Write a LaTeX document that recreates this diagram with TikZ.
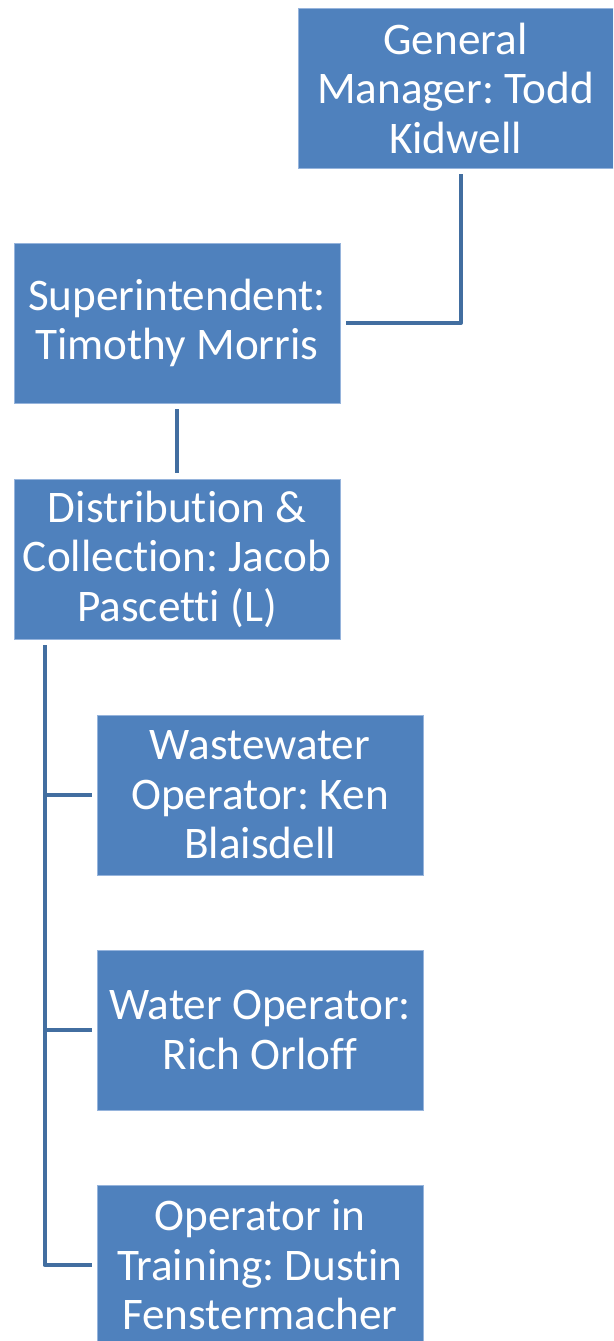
\documentclass[tikz,border=0pt]{standalone}
\usepackage{fontspec}
\setmainfont[Ligatures=NoCommon]{Carlito}
\frenchspacing
\definecolor{boxfill}{RGB}{79,129,189}
\definecolor{boxedge}{RGB}{150,180,220}
\definecolor{linkcol}{RGB}{66,110,160}
\tikzset{
  orgbox/.style={draw=boxedge, line width=0.8pt, fill=boxfill, text=white, align=center,
    inner sep=0pt, font=\fontsize{45.2}{49.5}\selectfont},
  link/.style={draw=linkcol, line width=4pt, line join=round}
}
\begin{document}
\begin{tikzpicture}[x=1pt,y=-1pt]
\useasboundingbox (0,0) rectangle (613,1341);
\clip (0,0) rectangle (613,1341);
\node[orgbox, minimum width=315pt, minimum height=160pt] (gm) at (455.5,88) {General\\Manager: Todd\\Kidwell};
\node[orgbox, minimum width=326pt, minimum height=160pt] (sup) at (177,323) {Superintendent:\\Timothy Morris};
\node[orgbox, minimum width=326pt, minimum height=160pt] (dist) at (177,559) {Distribution \&\\Collection: Jacob\\Pascetti (L)};
\node[orgbox, minimum width=326pt, minimum height=160pt] (ww) at (260,795) {Wastewater\\Operator: Ken\\Blaisdell};
\node[orgbox, minimum width=326pt, minimum height=160pt] (wo) at (260,1030) {Water Operator:\\Rich Orloff};
\node[orgbox, minimum width=326pt, minimum height=160pt] (oit) at (260,1265) {Operator in\\Training: Dustin\\Fenstermacher};
\draw[link] ([xshift=5.5pt,yshift=-6pt]gm.south) |- ([xshift=6pt]sup.east);
\draw[link] ([yshift=-6pt]sup.south) -- ([yshift=6pt]dist.north);
\coordinate (t) at ([xshift=31pt,yshift=-6pt]dist.south west);
\draw[link] (t) |- ([xshift=-5pt]oit.west);
\draw[link] (t |- ww.west) -- ([xshift=-5pt]ww.west);
\draw[link] (t |- wo.west) -- ([xshift=-5pt]wo.west);
\end{tikzpicture}
\end{document}
